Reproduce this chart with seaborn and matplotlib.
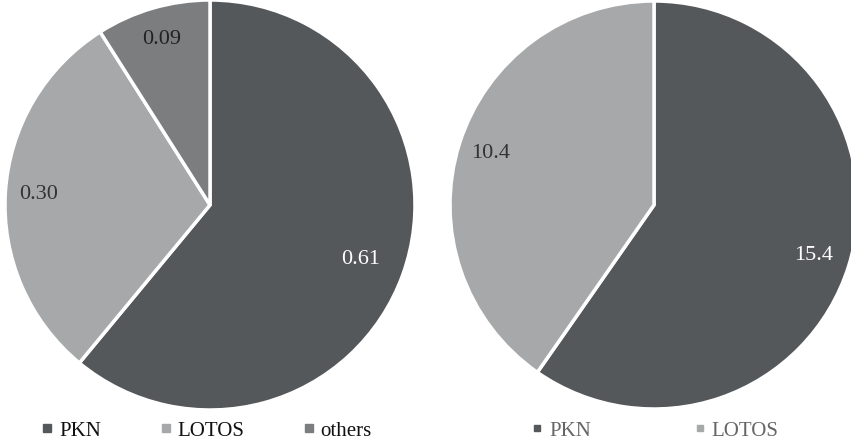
import numpy as np
import matplotlib
matplotlib.use("Agg")
import matplotlib.pyplot as plt
from matplotlib.lines import Line2D
import seaborn as sns

sns.set_theme(style="white")
plt.rcParams['font.family'] = ['Liberation Serif', 'DejaVu Serif']

left_labels = ["PKN", "LOTOS", "others"]
left_values = [0.61, 0.30, 0.09]
left_text = ["0.61", "0.30", "0.09"]

right_labels = ["PKN", "LOTOS"]
right_values = [15.4, 10.4]
right_text = ["15.4", "10.4"]

colors = ["#55585a", "#a6a8a9", "#7b7d7e"]
label_colors = ["white", "#333333", "#222222"]

# radial position of each value label (fraction of radius)
left_lpos = [0.78, 0.84, 0.84]
right_lpos = [0.82, 0.84]

fig = plt.figure(figsize=(8.51, 4.44), dpi=100)
W, H = 851, 444


def draw(box, values, texts, lpos):
    cx, cy, r = box
    ax = fig.add_axes([(cx - r) / W, (H - cy - r) / H, 2 * r / W, 2 * r / H])
    wedges, _ = ax.pie(values, colors=colors[:len(values)], startangle=90,
                       counterclock=False, radius=1,
                       wedgeprops=dict(edgecolor="white", linewidth=2.5))
    for w, t, p, c in zip(wedges, texts, lpos, label_colors):
        ang = np.deg2rad((w.theta1 + w.theta2) / 2)
        ax.text(p * np.cos(ang), p * np.sin(ang), t, ha="center", va="center",
                fontsize=16, color=c)
    ax.set_xlim(-1, 1)
    ax.set_ylim(-1, 1)
    ax.set_aspect("equal")
    ax.axis("off")
    return ax, wedges


ax1, w1 = draw((210, 205, 205), left_values, left_text, left_lpos)
ax2, w2 = draw((654, 205, 204), right_values, right_text, right_lpos)

h1 = [Line2D([], [], marker="s", linestyle="none", markersize=6, color=c)
      for c in colors[:len(left_values)]]
h2 = [Line2D([], [], marker="s", linestyle="none", markersize=5, color=c)
      for c in colors[:len(right_values)]]

fig.legend(h1, left_labels, loc="center", bbox_to_anchor=(206 / W, 1 - 431 / H),
           ncol=3, frameon=False, fontsize=15, handletextpad=0.2,
           columnspacing=2.77, handlelength=0.7, labelcolor="#111111",
           borderpad=0, borderaxespad=0)
fig.legend(h2, right_labels, loc="center", bbox_to_anchor=(654 / W, 1 - 431 / H),
           ncol=2, frameon=False, fontsize=15, handletextpad=0.2,
           columnspacing=4.87, handlelength=0.7, labelcolor="#666666",
           borderpad=0, borderaxespad=0)

fig.savefig("out.png", dpi=100, facecolor="white")
